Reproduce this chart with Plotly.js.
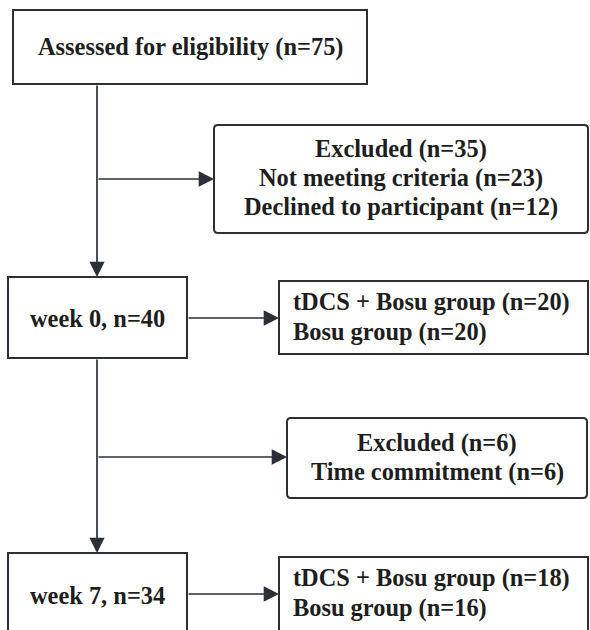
<!DOCTYPE html>
<html>
<head>
<meta charset="utf-8">
<script src="https://cdn.plot.ly/plotly-3.0.1.min.js"></script>
<style>html,body{margin:0;padding:0;background:#fff;}#chart{width:590px;height:630px;}</style>
</head>
<body>
<div id="chart"></div>
<script>
// ---- content ----
const stageLabels = ["Assessed for eligibility", "week 0", "week 7"];
const stageCounts = [75, 40, 34];
const excl1Labels = ["Excluded", "Not meeting criteria", "Declined to participant"];
const excl1Counts = [35, 23, 12];
const excl2Labels = ["Excluded", "Time commitment"];
const excl2Counts = [6, 6];
const groupNames = ["tDCS + Bosu group", "Bosu group"];
const week0Counts = [20, 20];
const week7Counts = [18, 16];

// ---- styling / geometry ----
const LINE = "#2c3036";
const TXT = "#1e1e1e";
const FONT = "Liberation Serif, Times New Roman, serif";
const FS = 24.4;

function rect(x0, y0, x1, y1) {
  return {type: "rect", xref: "x", yref: "y", x0, y0, x1, y1, line: {color: LINE, width: 2}, fillcolor: "rgba(0,0,0,0)"};
}
function rrect(x0, y0, x1, y1, r) {
  const p = `M${x0+r},${y0} L${x1-r},${y0} Q${x1},${y0} ${x1},${y0+r} L${x1},${y1-r} Q${x1},${y1} ${x1-r},${y1} L${x0+r},${y1} Q${x0},${y1} ${x0},${y1-r} L${x0},${y0+r} Q${x0},${y0} ${x0+r},${y0} Z`;
  return {type: "path", xref: "x", yref: "y", path: p, line: {color: LINE, width: 2}};
}
function label(x, y, text, align) {
  return {x, y, xref: "x", yref: "y", text: "<b>" + text + "</b>", showarrow: false,
    xanchor: align || "center", yanchor: "middle",
    font: {family: FONT, size: FS, color: TXT}};
}
function arrow(x0, y0, x1, y1) {
  return {x: x1, y: y1, ax: x0, ay: y0, xref: "x", yref: "y", axref: "x", ayref: "y",
    text: "", showarrow: true, arrowhead: 2, arrowsize: 1.8, arrowwidth: 1.7, arrowcolor: LINE, standoff: 0, startstandoff: 0};
}

const shapes = [
  rect(13, 10, 367, 84),
  rrect(214, 125, 588, 233, 4),
  rect(8, 277, 187, 358),
  rect(279, 281, 588, 354),
  rrect(287, 418, 587, 498, 4),
  rect(8, 553, 187, 645),
  rect(279, 557, 588, 645)
];

const annotations = [
  label(190, 47, `${stageLabels[0]} (n=${stageCounts[0]})`),
  label(401, 149, `${excl1Labels[0]} (n=${excl1Counts[0]})`),
  label(401, 178, `${excl1Labels[1]} (n=${excl1Counts[1]})`),
  label(401, 207, `${excl1Labels[2]} (n=${excl1Counts[2]})`),
  label(97, 318, `${stageLabels[1]}, n=${stageCounts[1]}`),
  label(291, 302, `${groupNames[0]} (n=${week0Counts[0]})`, "left"),
  label(291, 332, `${groupNames[1]} (n=${week0Counts[1]})`, "left"),
  label(437, 443, `${excl2Labels[0]} (n=${excl2Counts[0]})`),
  label(437, 472, `${excl2Labels[1]} (n=${excl2Counts[1]})`),
  label(97, 595, `${stageLabels[2]}, n=${stageCounts[2]}`),
  label(291, 578, `${groupNames[0]} (n=${week7Counts[0]})`, "left"),
  label(291, 608, `${groupNames[1]} (n=${week7Counts[1]})`, "left"),
  arrow(97, 84, 97, 277),
  arrow(97, 179, 214, 179),
  arrow(187, 318, 279, 318),
  arrow(97, 358, 97, 553),
  arrow(97, 457, 287, 457),
  arrow(187, 594, 279, 594)
];

const layout = {
  width: 590, height: 630,
  margin: {l: 0, r: 0, t: 0, b: 0},
  paper_bgcolor: "#ffffff", plot_bgcolor: "#ffffff",
  xaxis: {range: [0, 590], visible: false, fixedrange: true},
  yaxis: {range: [630, 0], visible: false, fixedrange: true},
  showlegend: false,
  shapes, annotations
};

Plotly.newPlot("chart", [{x: [], y: [], type: "scatter", mode: "markers", hoverinfo: "skip"}], layout, {staticPlot: true, displayModeBar: false});
</script>
</body>
</html>
